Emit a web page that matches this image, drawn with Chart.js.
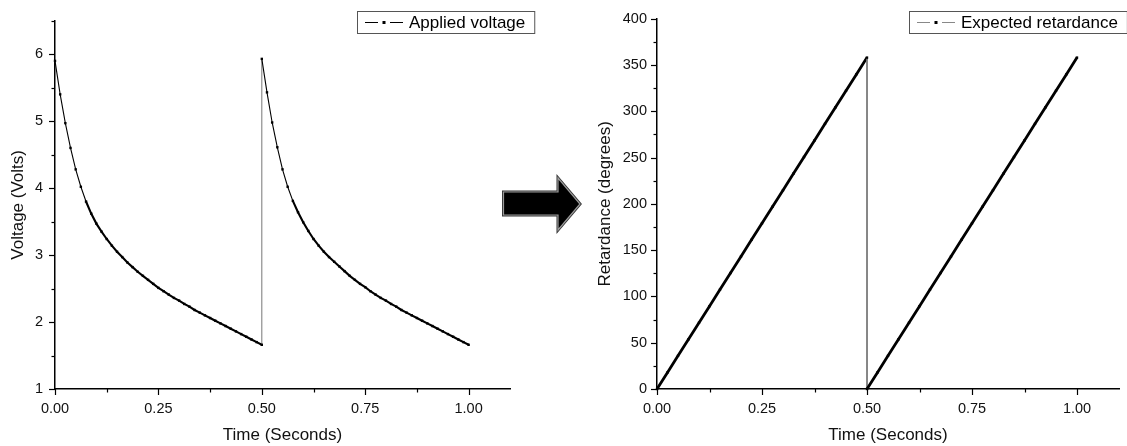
<!DOCTYPE html>
<html><head><meta charset="utf-8">
<script src="https://cdn.jsdelivr.net/npm/chart.js@4.4.0/dist/chart.umd.min.js"></script>
<style>
html,body{margin:0;padding:0;background:#fff;}
#wrap{position:relative;width:1127px;height:446px;overflow:hidden;background:#fff;}
#c1box{position:absolute;left:0;top:0;width:545px;height:446px;}
#c2box{position:absolute;left:590px;top:0;width:537px;height:446px;}
#arrow{position:absolute;left:0;top:0;pointer-events:none;}
</style></head><body>
<div id="wrap">
<div id="c1box"><canvas id="c1"></canvas></div>
<div id="c2box"><canvas id="c2"></canvas></div>
<svg id="arrow" width="1127" height="446">
<polygon points="503.5,192 558,192 558,178 580,204 558,230 558,215 503.5,215" fill="#000" stroke="#333" stroke-width="3" stroke-linejoin="miter"/>
<polygon points="503.5,192 558,192 558,178 580,204 558,230 558,215 503.5,215" fill="#000" stroke="#9a9a9a" stroke-width="1.2" stroke-linejoin="miter"/>
</svg>
</div>
<script>
// ---------- data ----------
const timeVolt = [
 0,0.0125,0.025,0.0375,0.05,0.0625,0.075,0.0875,0.1,0.1125,0.125,0.1375,0.15,0.1625,0.175,0.1875,0.2,0.2125,0.225,0.2375,
 0.25,0.2625,0.275,0.2875,0.3,0.3125,0.325,0.3375,0.35,0.3625,0.375,0.3875,0.4,0.4125,0.425,0.4375,0.45,0.4625,0.475,0.4875,0.5,
 0.5,0.5125,0.525,0.5375,0.55,0.5625,0.575,0.5875,0.6,0.6125,0.625,0.6375,0.65,0.6625,0.675,0.6875,0.7,0.7125,0.725,0.7375,
 0.75,0.7625,0.775,0.7875,0.8,0.8125,0.825,0.8375,0.85,0.8625,0.875,0.8875,0.9,0.9125,0.925,0.9375,0.95,0.9625,0.975,0.9875,1.0
];
const voltage = [
 5.90,5.40,4.97,4.60,4.28,4.02,3.80,3.62,3.47,3.35,3.24,3.14,3.05,2.97,2.89,2.82,2.75,2.69,2.63,2.57,
 2.51,2.46,2.41,2.36,2.32,2.27,2.23,2.18,2.14,2.10,2.06,2.02,1.98,1.94,1.90,1.86,1.82,1.78,1.74,1.70,1.66,
 5.93,5.43,4.98,4.61,4.28,4.02,3.81,3.64,3.49,3.36,3.24,3.14,3.05,2.97,2.90,2.83,2.76,2.69,2.63,2.57,
 2.52,2.46,2.41,2.36,2.32,2.27,2.23,2.18,2.14,2.10,2.06,2.02,1.98,1.94,1.90,1.86,1.82,1.78,1.74,1.70,1.66
];
const timeRet = [
 0,0.025,0.05,0.075,0.1,0.125,0.15,0.175,0.2,0.225,0.25,0.275,0.3,0.325,0.35,0.375,0.4,0.425,0.45,0.475,0.5,
 0.5,0.525,0.55,0.575,0.6,0.625,0.65,0.675,0.7,0.725,0.75,0.775,0.8,0.825,0.85,0.875,0.9,0.925,0.95,0.975,1.0
];
const retardance = [
 0,17.9,35.8,53.7,71.6,89.5,107.4,125.3,143.2,161.1,179.0,196.9,214.8,232.7,250.6,268.5,286.4,304.3,322.2,340.1,358.0,
 0,17.9,35.8,53.7,71.6,89.5,107.4,125.3,143.2,161.1,179.0,196.9,214.8,232.7,250.6,268.5,286.4,304.3,322.2,340.1,358.0
];
const xTickLabels = ['0.00','0.25','0.50','0.75','1.00'];
const voltTickLabels = ['1','2','3','4','5','6'];
const retTickLabels = ['0','50','100','150','200','250','300','350','400'];
const seriesNames = ['Applied voltage','Expected retardance'];

// ---------- plugins ----------
const tickMarks = {
  id:'tickMarks',
  afterDraw(chart, args, o){
    const ctx = chart.ctx;
    ctx.save(); ctx.strokeStyle='#000'; ctx.lineWidth=1.2;
    ['x','y'].forEach(id=>{
      const sc = chart.scales[id];
      const major = o[id];
      sc.ticks.forEach(t=>{
        const r = t.value/major;
        const isMajor = Math.abs(r-Math.round(r))<1e-6;
        const len = isMajor?6:3.5;
        const p = Math.round(sc.getPixelForValue(t.value))+0.5;
        ctx.beginPath();
        if(sc.isHorizontal()){ ctx.moveTo(p, sc.top); ctx.lineTo(p, sc.top+len); }
        else { ctx.moveTo(sc.right-len, p); ctx.lineTo(sc.right, p); }
        ctx.stroke();
      });
    });
    ctx.restore();
  }
};
const boxLegend = {
  id:'boxLegend',
  afterDraw(chart, args, o){
    const ctx = chart.ctx; const label = chart.data.datasets[0].label;
    ctx.save();
    ctx.font = o.font;
    const tw = ctx.measureText(label).width;
    const x=o.left, y=o.top, h=o.height;
    const w = 52 + tw + 9;
    ctx.fillStyle='#fff'; ctx.fillRect(x,y,w,h);
    ctx.strokeStyle='#555'; ctx.lineWidth=1; ctx.strokeRect(x+0.5,y+0.5,w,h);
    const cy = Math.round(y+h/2)+0.5;
    ctx.strokeStyle=o.dashColor; ctx.beginPath();
    ctx.moveTo(x+8,cy); ctx.lineTo(x+21,cy); ctx.moveTo(x+33,cy); ctx.lineTo(x+46,cy); ctx.stroke();
    ctx.fillStyle='#000'; ctx.fillRect(x+25.5,cy-1.5,3,3);
    ctx.textBaseline='middle'; ctx.fillStyle='#000';
    ctx.fillText(label, x+52, y+h/2+1);
    ctx.restore();
  }
};

const FONT = '"Liberation Sans", Arial, sans-serif';
function isMult(v, m){ const r=v/m; return Math.abs(r-Math.round(r))<1e-6; }

function makeChart(id, xs, ys, name, cfg){
  const pts = xs.map((x,i)=>({x:x, y:ys[i]}));
  return new Chart(document.getElementById(id), {
    type:'line',
    data:{ datasets:[{
      label:name, data:pts,
      borderColor:'#000', backgroundColor:'#000',
      pointStyle:'rect', pointRadius:cfg.pr, pointBorderWidth:0, pointBackgroundColor:'#000',
      tension:0, clip:false,
      segment:{
        borderColor: c => c.p0.parsed.x === c.p1.parsed.x ? '#777' : '#000',
        borderWidth: c => {
          if (c.p0.parsed.x === c.p1.parsed.x) return 1;
          const s = Math.abs((c.p1.y-c.p0.y)/(c.p1.x-c.p0.x));
          return s > 2.4 ? 1.1 : cfg.thick;
        }
      }
    }]},
    options:{
      responsive:true, maintainAspectRatio:false, devicePixelRatio:1, animation:false,
      layout:{ padding:{ left:0, top:cfg.padTop, right:cfg.padRight, bottom:0 } },
      plugins:{ legend:{display:false}, tooltip:{enabled:false},
        tickMarks:{ x:0.25, y:cfg.yMajor },
        boxLegend:{ left:cfg.legLeft, top:11, height:22, font:'17px '+FONT, dashColor:cfg.dash } },
      scales:{
        x:{ type:'linear', min:0, max:1.1,
          afterFit: s => { s.height = 57; },
          grid:{ display:false, drawTicks:false },
          border:{ display:true, color:'#000', width:1.5 },
          ticks:{ stepSize:0.125, includeBounds:false, autoSkip:false, maxRotation:0, padding:11,
            color:'#111', font:{ family:FONT, size:14.5 },
            callback: v => isMult(v,0.25) ? xTickLabels[Math.round(v*4)] : '' },
          title:{ display:true, text:'Time (Seconds)', color:'#111', font:{family:FONT, size:17}, padding:{top:0,bottom:0} }
        },
        y:{ type:'linear', min:cfg.yMin, max:cfg.yMax,
          afterFit: s => { s.width = cfg.yW; },
          grid:{ display:false, drawTicks:false },
          border:{ display:true, color:'#000', width:1.5 },
          ticks:{ stepSize:cfg.yStep, autoSkip:false, padding:cfg.yPad,
            color:'#111', font:{ family:FONT, size:14.5 },
            callback: v => isMult(v,cfg.yMajor) ? cfg.yLabels[Math.round((v-cfg.yMin)/cfg.yMajor)] : '' },
          title:{ display:true, text:cfg.yTitle, color:'#111', font:{family:FONT, size:17}, padding:{top:cfg.yTitlePad,bottom:0} }
        }
      }
    },
    plugins:[tickMarks, boxLegend]
  });
}

makeChart('c1', timeVolt, voltage, seriesNames[0], {
  pr:1.7, thick:2.1, padTop:14, padRight:35, yMajor:1, yMin:1, yMax:6.5, yStep:0.5, yW:55, yPad:12,
  yLabels:voltTickLabels, yTitle:'Voltage (Volts)', yTitlePad:8, legLeft:357, dash:'#000'
});
makeChart('c2', timeRet, retardance, seriesNames[1], {
  pr:1.7, thick:2.8, padTop:12.7, padRight:8, yMajor:50, yMin:0, yMax:400, yStep:25, yW:67, yPad:10,
  yLabels:retTickLabels, yTitle:'Retardance (degrees)', yTitlePad:5, legLeft:319, dash:'#888'
});
</script>
</body></html>
